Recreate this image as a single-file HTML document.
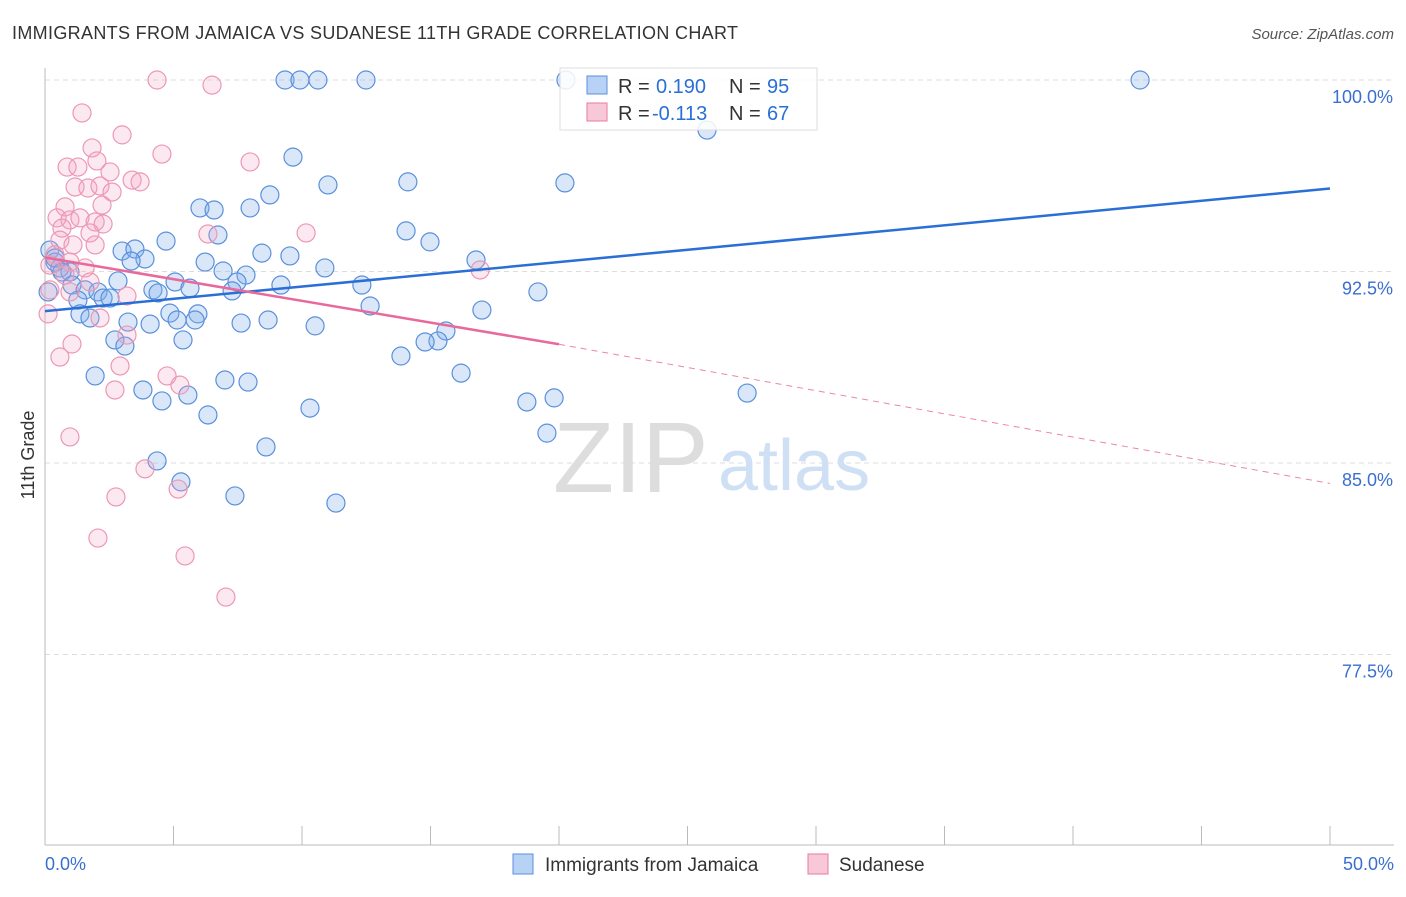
<!DOCTYPE html>
<html><head><meta charset="utf-8"><style>
body{margin:0;background:#fff;font-family:"Liberation Sans",sans-serif}
svg text{font-family:"Liberation Sans",sans-serif}
</style></head><body>
<svg width="1406" height="892" xmlns="http://www.w3.org/2000/svg">
<text x="12" y="39" font-size="18" fill="#333" textLength="726">IMMIGRANTS FROM JAMAICA VS SUDANESE 11TH GRADE CORRELATION CHART</text>
<text x="1394" y="39" font-size="15" fill="#555" font-style="italic" text-anchor="end">Source: ZipAtlas.com</text>
<g id="grid"></g>
<text x="553" y="492" font-size="100" fill="#ddd" font-family="Liberation Serif">ZIP</text>
<text x="718" y="490" font-size="72" fill="#cfe0f5">atlas</text>
<g id="pts"></g>
<g id="lines"></g>
<text transform="translate(34,455) rotate(-90)" font-size="18" fill="#333" text-anchor="middle">11th Grade</text>
<g>
<rect x="560" y="68" width="257" height="62" fill="#fff" fill-opacity="0.85" stroke="#ddd"/>
<rect x="587" y="76" width="20" height="18" fill="#b8d2f5" stroke="#5b8fdc"/>
<rect x="587" y="103" width="20" height="18" fill="#f8c8d8" stroke="#e87aa0"/>
<text x="618" y="93" font-size="20" fill="#333">R =</text>
<text x="656" y="93" font-size="20" fill="#2a6fd6">0.190</text>
<text x="729" y="93" font-size="20" fill="#333">N =</text>
<text x="767" y="93" font-size="20" fill="#2a6fd6">95</text>
<text x="618" y="120" font-size="20" fill="#333">R =</text>
<text x="652" y="120" font-size="20" fill="#2a6fd6">-0.113</text>
<text x="729" y="120" font-size="20" fill="#333">N =</text>
<text x="767" y="120" font-size="20" fill="#2a6fd6">67</text>
</g>
<g>
<rect x="513" y="854" width="20" height="20" fill="#b8d2f5" stroke="#5b8fdc"/>
<text x="545" y="871" font-size="19" fill="#333">Immigrants from Jamaica</text>
<rect x="808" y="854" width="20" height="20" fill="#f8c8d8" stroke="#e87aa0"/>
<text x="839" y="871" font-size="19" fill="#333">Sudanese</text>
</g>
</svg>
<script>
const xTicks=[0,5,10,15,20,25,30,35,40,45,50];
const yTicks=[100,92.5,85,77.5];
const blueLine=[[0,90.95],[50,95.75]];
const pinkLine=[[0,93.05],[20,89.65],[50,84.2]];
const bluePx=[[285,80],[300,80],[318,80],[366,80],[566,80],[1140,80],[707,130],[293,157],[270,195],[328,185],[408,182],[565,183],[200,208],[214,210],[250,208],[406,231],[430,242],[166,241],[218,235],[122,251],[135,249],[262,253],[290,256],[145,259],[131,261],[205,262],[476,260],[223,271],[246,275],[325,268],[50,250],[55,262],[60,268],[70,272],[118,281],[175,282],[237,282],[281,285],[362,285],[538,292],[72,285],[85,290],[98,292],[103,298],[110,298],[78,300],[153,290],[158,293],[190,288],[232,291],[370,306],[482,310],[80,314],[90,318],[170,313],[198,314],[177,320],[195,320],[128,322],[150,324],[241,323],[268,320],[315,326],[446,331],[438,341],[425,342],[115,340],[125,346],[183,340],[401,356],[95,376],[225,380],[248,382],[461,373],[143,390],[188,395],[162,401],[527,402],[554,398],[747,393],[310,408],[208,415],[547,433],[266,447],[157,461],[181,482],[235,496],[336,503],[48,292],[55,258],[62,272]];
const pinkPx=[[157,80],[212,85],[82,113],[122,135],[162,154],[92,148],[250,162],[67,167],[97,161],[78,167],[110,172],[132,180],[140,182],[75,187],[88,188],[100,186],[112,192],[65,207],[102,205],[57,218],[70,220],[80,218],[95,222],[103,224],[62,228],[90,233],[306,233],[208,234],[60,240],[73,245],[95,245],[55,255],[70,262],[50,265],[85,268],[65,275],[480,270],[90,282],[50,290],[70,292],[127,296],[100,318],[48,314],[72,344],[60,357],[127,335],[120,366],[167,376],[180,385],[115,390],[70,437],[145,469],[178,489],[116,497],[98,538],[185,556],[226,597]];
const blueX=bluePx.map(p=>+((p[0]-45)/1285*50).toFixed(2));
const blueY=bluePx.map(p=>+(100-(p[1]-80)/191.5*7.5).toFixed(2));
const pinkX=pinkPx.map(p=>+((p[0]-45)/1285*50).toFixed(2));
const pinkY=pinkPx.map(p=>+(100-(p[1]-80)/191.5*7.5).toFixed(2));
const sx=v=>45+v/50*1285, sy=v=>80+(100-v)/7.5*191.5;
const NS='http://www.w3.org/2000/svg';
function mk(t,a,p){const e=document.createElementNS(NS,t);for(const k in a)e.setAttribute(k,a[k]);p.appendChild(e);return e;}
const g=document.getElementById('grid');
yTicks.forEach(v=>{const l=mk('line',{x1:45,x2:1394,y1:sy(v),y2:sy(v),stroke:'#ddd','stroke-dasharray':'5,4'},g);


const t=mk('text',{x:1393,y:sy(v)+23,'font-size':18,fill:'#3a6fd0','text-anchor':'end'},g);t.textContent=v.toFixed(1)+'%';

});
const ax=mk('line',{x1:45,x2:1394,y1:845,y2:845,stroke:'#bbb'},g);


const ay=mk('line',{x1:45,x2:45,y1:68,y2:845,stroke:'#bbb'},g);


xTicks.forEach(v=>{const l=mk('line',{x1:sx(v),x2:sx(v),y1:826,y2:845,stroke:'#bbb'},g);

});
[[0,'0.0%','start',45],[50,'50.0%','end',1394]].forEach(d=>{const t=mk('text',{x:d[3],y:870,'font-size':18,fill:'#3a6fd0','text-anchor':d[2]},g);t.textContent=d[1];

});
const pg=document.getElementById('pts');
blueX.forEach((x,i)=>{const c=mk('circle',{cx:sx(x),cy:sy(blueY[i]),r:9,fill:'rgba(130,175,235,0.3)',stroke:'#5a90dc','stroke-width':1.2},pg);

});
pinkX.forEach((x,i)=>{const c=mk('circle',{cx:sx(x),cy:sy(pinkY[i]),r:9,fill:'rgba(245,165,195,0.25)',stroke:'#ec98b4','stroke-width':1.2},pg);

});
const lg=document.getElementById('lines');
const bl=mk('line',{x1:sx(blueLine[0][0]),y1:sy(blueLine[0][1]),x2:sx(blueLine[1][0]),y2:sy(blueLine[1][1]),stroke:'#2a6fd6','stroke-width':2.5},lg);


const pl=mk('line',{x1:sx(pinkLine[0][0]),y1:sy(pinkLine[0][1]),x2:sx(pinkLine[1][0]),y2:sy(pinkLine[1][1]),stroke:'#e8699a','stroke-width':2.5},lg);


const pd=mk('line',{x1:sx(pinkLine[1][0]),y1:sy(pinkLine[1][1]),x2:sx(pinkLine[2][0]),y2:sy(pinkLine[2][1]),stroke:'#e8899f','stroke-width':1,'stroke-dasharray':'6,5'},lg);


</script>
</body></html>
